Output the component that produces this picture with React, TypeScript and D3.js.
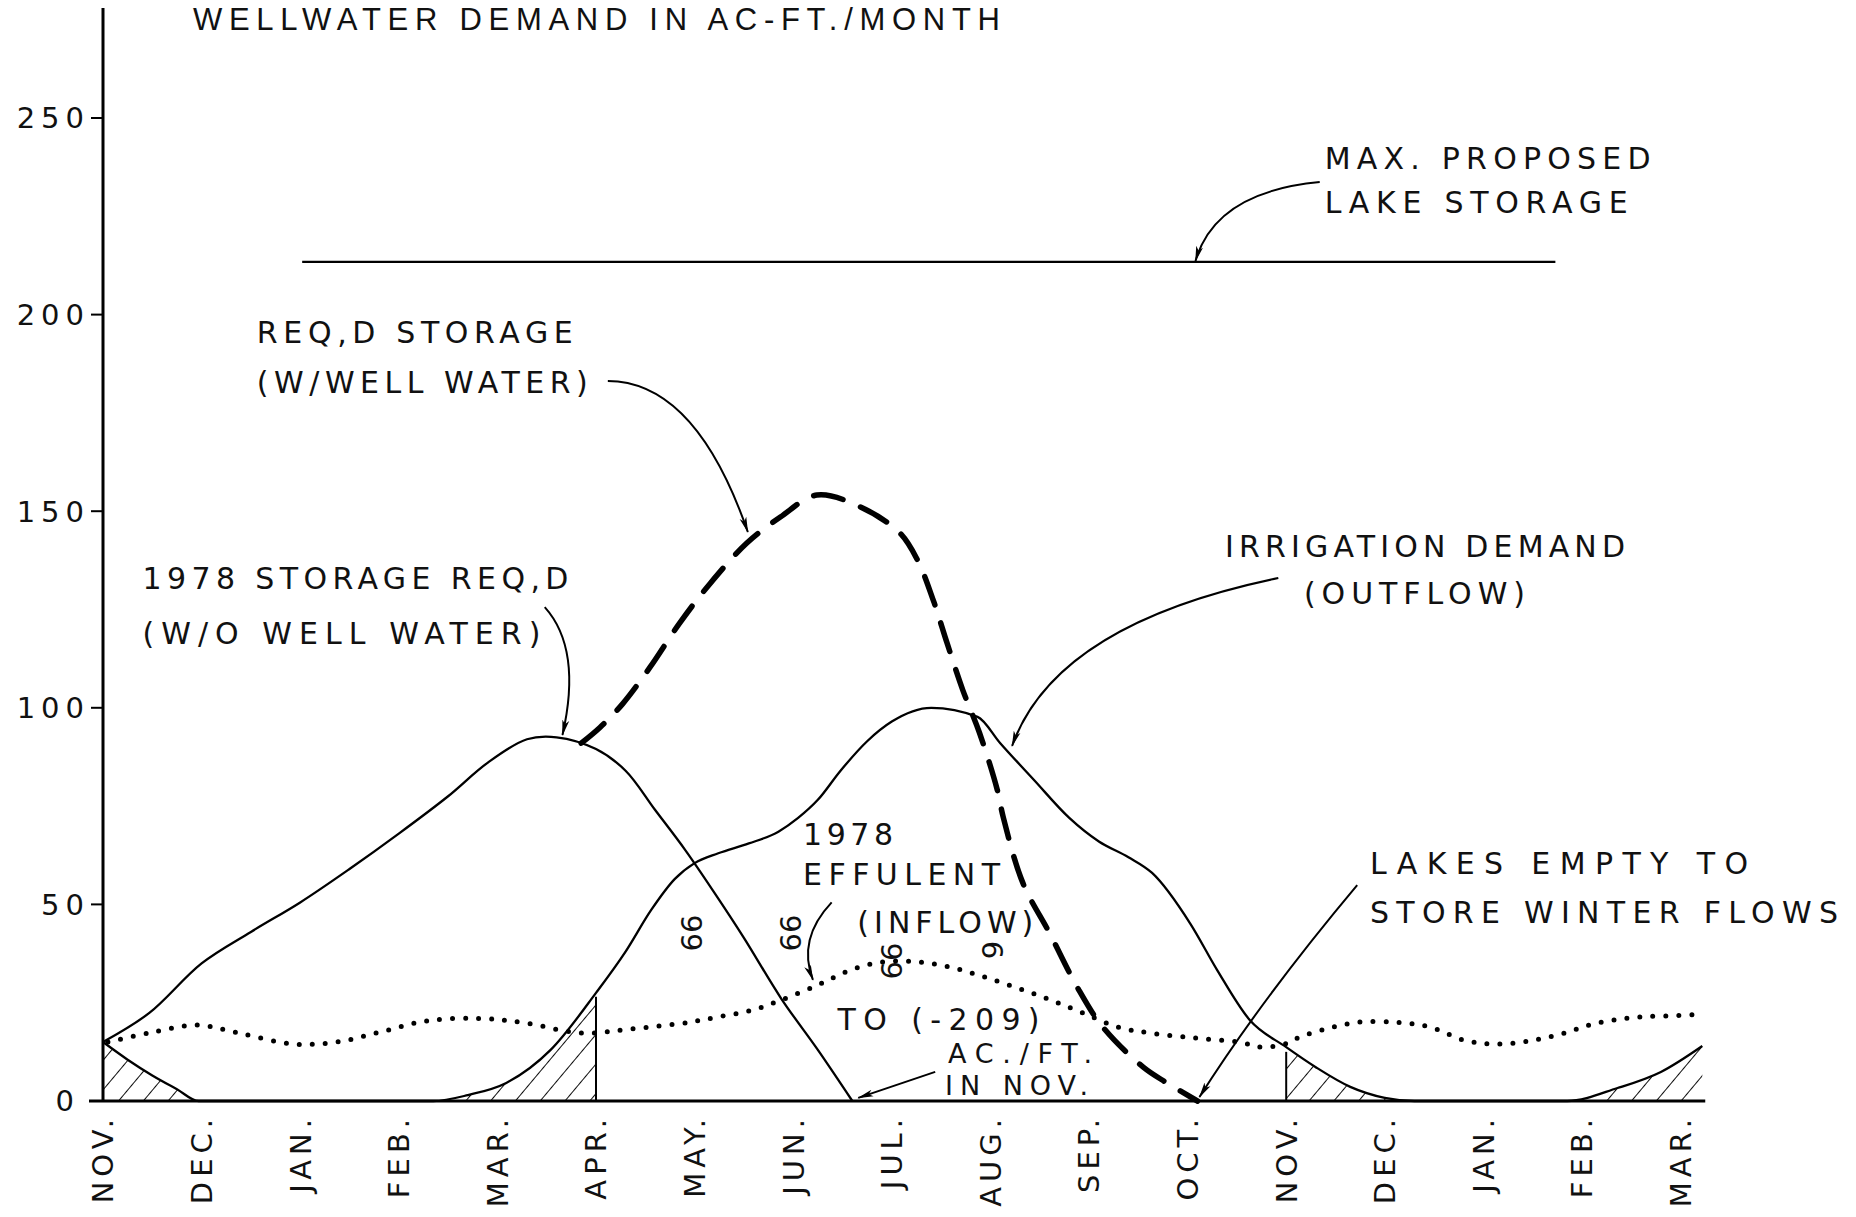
import React from "react";
import * as d3 from "d3";

type P = [number, number];

// ---------- data (x = month index from first NOV, y = acre-feet) ----------
const monthLabels = ["NOV.", "DEC.", "JAN.", "FEB.", "MAR.", "APR.", "MAY.", "JUN.", "JUL.", "AUG.", "SEP.", "OCT.", "NOV.", "DEC.", "JAN.", "FEB.", "MAR."];
const yTickValues = [0, 50, 100, 150, 200, 250];

const storageNoWell: P[] = [
  [0, 15], [0.47, 22.4], [1.0, 35], [1.5, 43], [2.0, 50.5], [2.5, 59], [3.0, 68], [3.5, 77.5], [3.9, 86],
  [4.3, 92], [4.6, 92.5], [5.0, 89.5], [5.3, 84], [5.6, 74], [5.9, 64], [6.2, 53], [6.5, 41.5], [6.88, 26],
  [7.25, 13], [7.6, 0],
];

const storageWithWell: P[] = [
  [4.85, 91], [5.04, 95], [5.27, 101], [5.55, 110.4], [5.85, 121.6], [6.16, 131.7], [6.53, 141.9], [6.87, 148.5],
  [7.24, 154.1], [7.68, 151.1], [8.08, 144.5], [8.26, 137.6], [8.42, 127.4], [8.56, 116.5], [8.72, 104.5],
  [8.89, 93.6], [9.07, 79.1], [9.13, 72.2], [9.33, 55.4], [9.6, 42.7], [9.88, 29], [10.14, 18.8], [10.55, 8.6],
  [10.79, 4.6], [11.1, 0],
];

const irrigationDemand: P[] = [
  [0, 15], [0.25, 10.5], [0.5, 6.5], [0.75, 3], [0.97, 0], [3.35, 0], [3.7, 1.5], [4.09, 4.6], [4.54, 13],
  [5.0, 27.5], [5.3, 38], [5.56, 48.6], [5.8, 56.5], [6.0, 60.5], [6.24, 63], [6.55, 65.5], [6.85, 68.5],
  [7.05, 72], [7.25, 76.6], [7.48, 84], [7.75, 91.5], [8.0, 96.5], [8.4, 100], [8.87, 97.7], [9.1, 91],
  [9.44, 81.7], [9.8, 72], [10.1, 66], [10.4, 62], [10.64, 58], [11.03, 45], [11.3, 33.3], [11.63, 20.6],
  [12.0, 13.7], [12.3, 8.6], [12.65, 3.6], [13.0, 0.8], [13.3, 0], [14.85, 0], [15.36, 3.3], [15.8, 7.4],
  [16.22, 14],
];

const effluentInflow: P[] = [
  [0.05, 15], [0.47, 17.3], [0.95, 19.3], [1.38, 17.3], [1.92, 14.5], [2.37, 15], [2.82, 17.6], [3.29, 20.4],
  [3.82, 21], [4.27, 19.9], [4.85, 17.3], [5.35, 18.3], [5.94, 20], [6.24, 21.4], [6.57, 23], [6.88, 25.7],
  [7.25, 29.5], [7.58, 33.3], [7.92, 35.4], [8.26, 35.4], [8.6, 34], [8.93, 31.6], [9.27, 28.8], [9.61, 25.7],
  [9.94, 22.4], [10.29, 18.8], [10.62, 17.3], [11.08, 16], [11.52, 15], [11.75, 13.7], [11.99, 14.5],
  [12.14, 16.3], [12.4, 18.3], [12.72, 20], [13.13, 20], [13.46, 18.8], [13.8, 15.5], [14.07, 14.5],
  [14.34, 14.8], [14.58, 15.8], [14.83, 17.3], [15.07, 19.3], [15.32, 20.6], [15.59, 21.4], [15.85, 21.6],
  [16.17, 22],
];

const maxLakeStorage = 213.4;
const maxLakeSpan: P = [2.02, 14.73];

const hatchRanges: P[] = [[0, 1.0], [3.3, 5.0], [12.0, 13.4], [14.8, 16.3]];
const hatchEdges: P[] = [[5.0, 26.5], [12.0, 12.5]];

// ---------- annotations (in data coordinates) ----------
const labels: { t: string; at: P; w: number; fs?: number }[] = [
  { t: "MAX. PROPOSED", at: [12.39, 237.0], w: 326 },
  { t: "LAKE STORAGE", at: [12.39, 225.8], w: 303 },
  { t: "REQ,D STORAGE", at: [1.56, 192.8], w: 316 },
  { t: "(W/WELL WATER)", at: [1.56, 180.1], w: 331 },
  { t: "1978 STORAGE REQ,D", at: [0.4, 130.2], w: 426 },
  { t: "(W/O WELL WATER)", at: [0.4, 116.2], w: 398 },
  { t: "IRRIGATION DEMAND", at: [11.38, 138.4], w: 400 },
  { t: "(OUTFLOW)", at: [12.18, 126.4], w: 221 },
  { t: "1978", at: [7.1, 65.1], w: 90 },
  { t: "EFFULENT", at: [7.1, 54.9], w: 197 },
  { t: "(INFLOW)", at: [7.65, 42.7], w: 176 },
  { t: "TO (-209)", at: [7.45, 18.1], w: 202 },
  { t: "AC./FT.", at: [8.57, 9.66], w: 144, fs: 27 },
  { t: "IN NOV.", at: [8.54, 1.5], w: 143, fs: 27 },
  { t: "LAKES EMPTY  TO", at: [12.85, 57.7], w: 378 },
  { t: "STORE WINTER FLOWS", at: [12.85, 45.3], w: 468 },
];

const sideMarks: { t: string; at: P; rot: number }[] = [
  { t: "66", at: [5.97, 42.7], rot: -90 },
  { t: "66", at: [6.97, 42.7], rot: -90 },
  { t: "66", at: [8.0, 35.6], rot: -90 },
  { t: "6", at: [9.02, 38.4], rot: 90 },
];

// start, control, end
const arrows: [P, P, P][] = [
  [[12.34, 233.7], [11.28, 231.2], [11.08, 213.6]],
  [[5.12, 183.1], [6.01, 183.0], [6.54, 144.7]],
  [[4.48, 125.6], [4.86, 115.0], [4.66, 93.1]],
  [[11.92, 133.0], [9.66, 121.3], [9.22, 90.3]],
  [[7.39, 50.5], [7.04, 41.2], [7.2, 30.8]],
  [[8.44, 7.4], [8.05, 4.1], [7.66, 0.8]],
  [[12.72, 54.9], [11.75, 25.9], [11.12, 1.0]],
];

const LABEL_FONT = "'DejaVu Sans', 'Liberation Sans', sans-serif";

export default function App() {
  const x = d3.scaleLinear().domain([0, 16]).range([103, 103 + 16 * 98.6]);
  const y = d3.scaleLinear().domain([0, 250]).range([1101, 118]);

  const smooth = d3
    .line<P>()
    .x((d) => x(d[0]))
    .y((d) => y(d[1]))
    .curve(d3.curveCatmullRom.alpha(0.5));

  const mono = d3
    .line<P>()
    .x((d) => x(d[0]))
    .y((d) => y(d[1]))
    .curve(d3.curveMonotoneX);

  const area = d3
    .area<P>()
    .x((d) => x(d[0]))
    .y0(y(0))
    .y1((d) => y(d[1]))
    .curve(d3.curveMonotoneX);

  const pathOf = (a: [P, P, P]) => {
    const p = d3.path();
    p.moveTo(x(a[0][0]), y(a[0][1]));
    p.quadraticCurveTo(x(a[1][0]), y(a[1][1]), x(a[2][0]), y(a[2][1]));
    return p.toString();
  };

  const axisX0 = x(0);

  return (
    <svg
      width={1856}
      height={1217}
      viewBox="0 0 1856 1217"
      style={{ position: "absolute", left: 0, top: 0, background: "#fff" }}
    >
      <defs>
        <pattern id="hatch" patternUnits="userSpaceOnUse" width={19} height={19} patternTransform="rotate(40)">
          <line x1={0} y1={0} x2={0} y2={19} stroke="#000" strokeWidth={1.9} />
        </pattern>
        <clipPath id="hatchClip">
          {hatchRanges.map((r, i) => (
            <rect key={i} x={x(r[0])} y={0} width={x(r[1]) - x(r[0])} height={1217} />
          ))}
        </clipPath>
        <marker id="ah" viewBox="0 0 16 8" refX={15} refY={4} markerWidth={16} markerHeight={8} markerUnits="userSpaceOnUse" orient="auto">
          <path d="M0,0.5 L16,4 L0,7.5 L4,4 Z" fill="#000" />
        </marker>
      </defs>

      <rect x={0} y={0} width={1856} height={1217} fill="#fff" />

      {/* title */}
      <text x={193} y={30} fontFamily="'Liberation Sans', Arial, sans-serif" fontSize={31} textLength={807} lengthAdjust="spacing" fill="#111">
        WELLWATER DEMAND IN  AC-FT./MONTH
      </text>

      {/* hatched well-water areas */}
      <path d={area(irrigationDemand) || ""} fill="url(#hatch)" clipPath="url(#hatchClip)" />
      {hatchEdges.map((e, i) => (
        <line key={i} x1={x(e[0])} x2={x(e[0])} y1={y(0)} y2={y(e[1])} stroke="#000" strokeWidth={2} />
      ))}

      {/* axes */}
      <line x1={axisX0} x2={axisX0} y1={8} y2={y(0)} stroke="#000" strokeWidth={3} />
      <line x1={89} x2={x(16.25)} y1={y(0)} y2={y(0)} stroke="#000" strokeWidth={3} />
      {yTickValues.map((v) => (
        <g key={v}>
          {v > 0 && <line x1={axisX0 - 12} x2={axisX0} y1={y(v)} y2={y(v)} stroke="#000" strokeWidth={2} />}
          <text
            x={v === 0 ? 80 : 90}
            y={y(v)}
            dy="0.36em"
            textAnchor="end"
            fontFamily={LABEL_FONT}
            fontSize={29}
            letterSpacing={6}
            fill="#111"
          >
            {v}
          </text>
        </g>
      ))}
      {monthLabels.map((m, i) => (
        <text
          key={i}
          transform={`translate(${x(i)},${1114}) rotate(-90)`}
          dy="0.36em"
          textAnchor="end"
          fontFamily={LABEL_FONT}
          fontSize={29}
          letterSpacing={5}
          fill="#111"
        >
          {m}
        </text>
      ))}

      {/* max proposed lake storage */}
      <line x1={x(maxLakeSpan[0])} x2={x(maxLakeSpan[1])} y1={y(maxLakeStorage)} y2={y(maxLakeStorage)} stroke="#000" strokeWidth={2.2} />

      {/* series */}
      <path d={smooth(storageNoWell) || ""} fill="none" stroke="#000" strokeWidth={2.3} />
      <path d={mono(irrigationDemand) || ""} fill="none" stroke="#000" strokeWidth={2.3} />
      <path
        d={smooth(storageWithWell) || ""}
        fill="none"
        stroke="#000"
        strokeWidth={5.5}
        strokeDasharray="30 19"
        strokeLinecap="round"
      />
      <path
        d={smooth(effluentInflow) || ""}
        fill="none"
        stroke="#000"
        strokeWidth={5}
        strokeDasharray="0 13"
        strokeLinecap="round"
      />

      {/* arrows */}
      {arrows.map((a, i) => (
        <path key={i} d={pathOf(a)} fill="none" stroke="#000" strokeWidth={2} markerEnd="url(#ah)" />
      ))}

      {/* labels */}
      {labels.map((l, i) => (
        <text
          key={i}
          x={x(l.at[0])}
          y={y(l.at[1])}
          fontFamily={LABEL_FONT}
          fontSize={l.fs ?? 30}
          textLength={l.w}
          lengthAdjust="spacing"
          fill="#111"
        >
          {l.t}
        </text>
      ))}
      {sideMarks.map((s, i) => (
        <text
          key={i}
          transform={`translate(${x(s.at[0])},${y(s.at[1])}) rotate(${s.rot})`}
          dy="0.36em"
          textAnchor="middle"
          fontFamily={LABEL_FONT}
          fontSize={29}
          fill="#111"
        >
          {s.t}
        </text>
      ))}
    </svg>
  );
}
